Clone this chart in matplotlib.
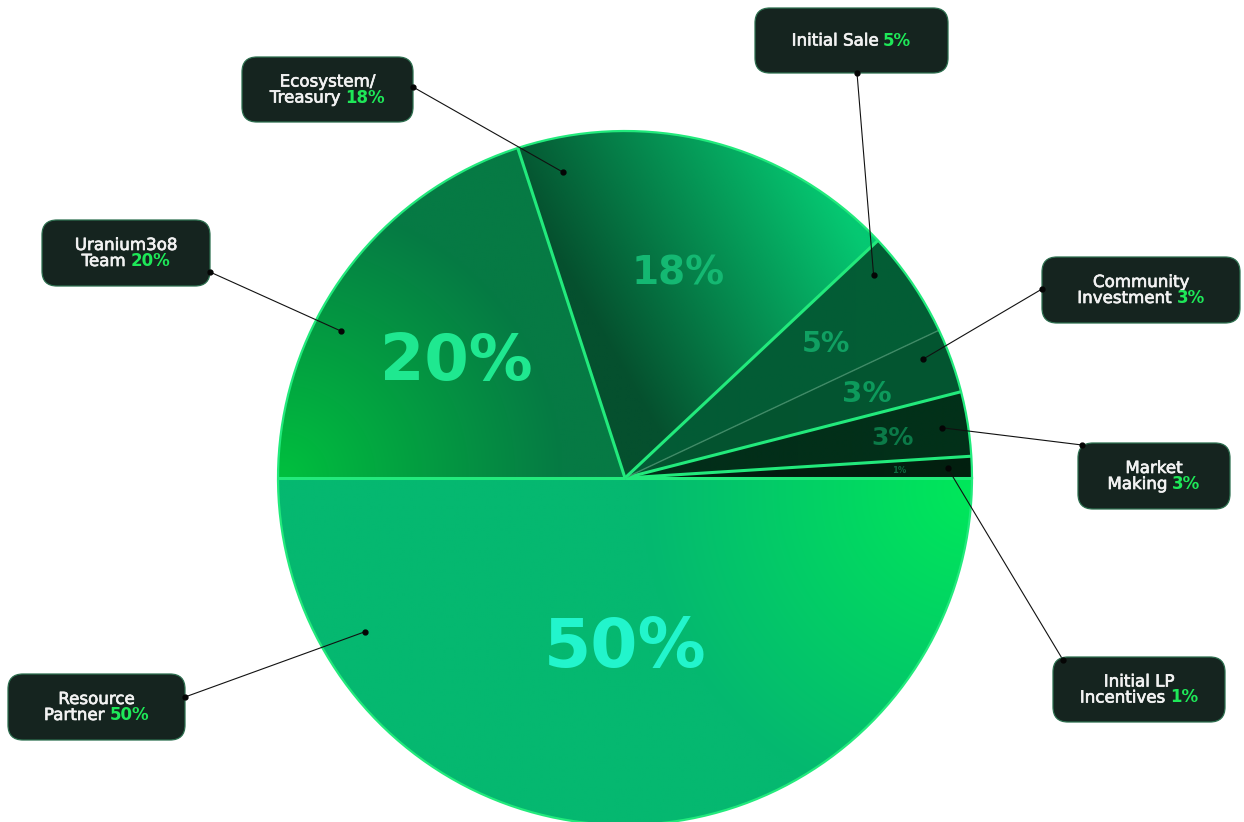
import numpy as np
import matplotlib
matplotlib.use("Agg")
import matplotlib.pyplot as plt
import matplotlib.patheffects as pe
from matplotlib.patches import FancyBboxPatch

# slices, counter-clockwise from 3 o'clock
names = ["Initial LP Incentives", "Market Making", "Community Investment",
         "Initial Sale", "Ecosystem/Treasury", "Uranium3o8 Team", "Resource Partner"]
values = [1, 3, 3, 5, 18, 20, 50]
line1 = ["Initial LP", "Market", "Community", "", "Ecosystem/", "Uranium3o8", "Resource"]
line2 = ["Incentives", "Making", "Investment", "Initial Sale", "Treasury", "Team", "Partner"]

W, H = 1244, 822
fig = plt.figure(figsize=(W / 100, H / 100), dpi=100)
ax = fig.add_axes([0, 0, 1, 1])
ax.set_xlim(0, W)
ax.set_ylim(0, H)
ax.set_aspect("equal")
ax.axis("off")

cx, cy, R = 625, H - 478, 347

wedges, _ = ax.pie(values, startangle=0, counterclock=True, center=(cx, cy),
                   radius=R, colors=["none"] * len(values),
                   wedgeprops=dict(edgecolor="none", linewidth=0))
for w in wedges:
    w.set_zorder(2)
ax.set_xlim(0, W)
ax.set_ylim(0, H)


def to_rgb(h):
    return np.array(matplotlib.colors.to_rgb(h))


# fills: kind, point, colour at point, far colour, second point / radius (pixel coords)
fills = [
    ("lin", (cx, cy), "#021c10", "#02200f", (cx + R, cy)),
    ("lin", (cx, cy), "#022d19", "#023119", (cx + R, cy)),
    ("lin", (cx, cy), "#03532f", "#045631", (cx + R, cy)),
    ("lin", (cx, cy), "#035b35", "#035e36", (cx + R, cy)),
    ("lin", (600, H - 330), "#05502e", "#05c872", (835, H - 195)),
    ("rad", (282, H - 478), "#00c03e", "#067a44", 280),
    ("rad", (972, H - 490), "#00e85a", "#05b870", 330),
]
xs = np.arange(cx - R, cx + R + 1, 2.0)
ys = np.arange(cy - R, cy + R + 1, 2.0)
X, Y = np.meshgrid(xs, ys)
for w, (kind, p0, c0, c1, p1) in zip(wedges, fills):
    if kind == "lin":
        d = np.array(p1) - np.array(p0)
        t = ((X - p0[0]) * d[0] + (Y - p0[1]) * d[1]) / (d @ d)
    else:
        t = np.hypot(X - p0[0], Y - p0[1]) / p1
    t = np.clip(t, 0, 1)[..., None]
    img = to_rgb(c0) * (1 - t) + to_rgb(c1) * t
    im = ax.imshow(img, extent=(xs[0], xs[-1], ys[0], ys[-1]), origin="lower",
                   interpolation="bilinear", zorder=1)
    im.set_clip_path(w)

# slice borders
bound = np.concatenate([[0], np.cumsum(values)]) / sum(values) * 360
for i, a in enumerate(bound[:-1]):
    col, lw = "#22ea7c", 2.2
    if i == 3:
        col, lw = "#3f8a66", 1.0
    r = np.radians(a)
    ax.plot([cx, cx + R * np.cos(r)], [cy, cy + R * np.sin(r)], color=col,
            lw=lw, zorder=3, solid_capstyle="butt")
th = np.radians(np.linspace(0, 360, 400))
ax.plot(cx + R * np.cos(th), cy + R * np.sin(th), color="#22ea7c", lw=1.6, zorder=3)

# big percentage labels inside the pie
inner_r = [0.79, 0.78, 0.74, 0.7, 0.62, 0.6, 0.47]
inner_fs = [6, 18, 21, 20.5, 28, 46, 49]
inner_c = ["#0b6a3c", "#0b7a48", "#0d9a5c", "#10a062", "#14b872", "#1fe890", "#22f5cc"]
for i, v in enumerate(values):
    mid = np.radians((bound[i] + bound[i + 1]) / 2)
    px = cx + inner_r[i] * R * np.cos(mid)
    py = cy + inner_r[i] * R * np.sin(mid)
    ax.text(px, py, f"{v}%", color=inner_c[i], fontsize=inner_fs[i],
            family="DejaVu Sans", weight="bold", ha="center",
            va="center_baseline", zorder=4)

# callout boxes (pixel coords, y down)
box_xy = [(1053, 657, 1225, 722), (1078, 443, 1230, 509), (1042, 257, 1240, 323),
          (755, 8, 948, 73), (242, 57, 413, 122), (42, 220, 210, 286),
          (8, 674, 185, 740)]
anchor = [(1063, 660), (1082, 445), (1042, 289), (857, 73), (413, 87),
          (210, 272), (185, 697)]
dot_t = [0.5, 0.5, 0.68, 0.78, 0.9, 0.62, 0.17]
dot_r = [0.93, 0.925, 0.925, 0.925, 0.9, 0.92, 0.87]

fig.canvas.draw()
rend = fig.canvas.get_renderer()
tkw = dict(fontsize=12, family=["DejaVu Sans"], va="center", zorder=7)
white_fx = [pe.withStroke(linewidth=0.5, foreground="#f2f2f2")]


def two_tone(xc, y, white, green):
    t1 = ax.text(0, y, white, color="#f2f2f2", ha="left", path_effects=white_fx, **tkw)
    t2 = ax.text(0, y, green, color="#1ee858", ha="left", weight="bold", **tkw)
    w1 = t1.get_window_extent(rend).width
    w2 = t2.get_window_extent(rend).width
    gap = 5
    x0 = xc - (w1 + gap + w2) / 2
    t1.set_x(x0)
    t2.set_x(x0 + w1 + gap)


for i, v in enumerate(values):
    x0, y0, x1, y1 = box_xy[i]
    ax.add_patch(FancyBboxPatch((x0, H - y1), x1 - x0, y1 - y0,
                                boxstyle="round,pad=0,rounding_size=15",
                                facecolor="#15241f", edgecolor="#2c6e4e",
                                linewidth=0.9, zorder=6))
    xc = (x0 + x1) / 2
    ym = H - (y0 + y1) / 2
    if line1[i]:
        ax.text(xc, ym + 8, line1[i], color="#f2f2f2", ha="center",
                path_effects=white_fx, **tkw)
        two_tone(xc, ym - 8, line2[i], f"{v}%")
    else:
        two_tone(xc, ym, line2[i], f"{v}%")

    a = np.radians(bound[i] + dot_t[i] * (bound[i + 1] - bound[i]))
    dx = cx + dot_r[i] * R * np.cos(a)
    dy = cy + dot_r[i] * R * np.sin(a)
    ax_, ay_ = anchor[i]
    ax.plot([ax_, dx], [H - ay_, dy], color="#111111", lw=0.8, zorder=5)
    ax.plot([dx, ax_], [dy, H - ay_], "o", color="#050505", ms=3.5, zorder=8)

fig.savefig("out.png", dpi=100, facecolor="white")
